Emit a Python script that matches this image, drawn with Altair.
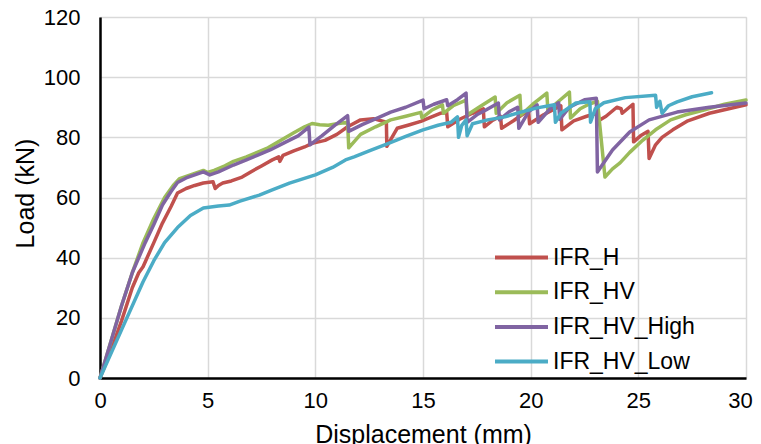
import altair as alt
import pandas as pd

# ---- data ----
series_names = ["IFR_H", "IFR_HV", "IFR_HV_High", "IFR_HV_Low"]
series_colors = ["#C0504D", "#9BBB59", "#8064A2", "#4BACC6"]

h_x = [0, 0.5, 1.0, 1.5, 1.8, 2.0, 2.5, 2.9, 3.3, 3.6, 4.0, 4.4, 4.8, 5.25, 5.35, 5.5, 5.7,
       6.1, 6.6, 7.0, 7.5, 8.0, 8.3, 8.35, 8.5, 9.0, 9.5, 9.85, 10.45, 11.0, 11.5, 12.1,
       12.7, 13.3, 13.32, 13.8, 14.3, 14.9, 15.4, 15.8, 16.1, 16.15, 16.7, 17.3, 17.8,
       17.85, 18.2, 18.6, 18.65, 19.2, 19.9, 19.95, 20.6, 21.4, 21.45, 22.0, 22.6, 23.1,
       23.15, 23.5, 24.0, 24.2, 24.25, 24.75, 24.78, 25.1, 25.45, 25.5, 25.8, 26.1, 26.6,
       27.3, 28.3, 29.2, 30.0]
h_y = [0, 9, 19, 30, 35, 37, 45, 51.5, 57, 61.5, 63, 64, 64.8, 65.2, 63, 64, 64.8,
       65.5, 66.8, 68.5, 70.5, 72.5, 73.5, 72, 74, 75.5, 76.8, 78, 79, 81, 83.5, 85.8,
       86.2, 85, 77, 83, 84, 85.3, 86.8, 88, 88.3, 83.5, 86, 88, 89.5,
       83.5, 85.5, 87, 83, 85.5, 89, 84.5, 87.5, 90.5, 82.5, 85.5, 87, 88,
       85.5, 87, 90, 89.5, 88, 91, 78.5, 80.5, 82, 73, 77.5, 80, 82.5,
       85.5, 88, 89.5, 90.8]

hv_x = [0, 0.5, 1.0, 1.5, 2.0, 2.5, 3.0, 3.4, 3.7, 4.0, 4.4, 4.8, 5.0, 5.3, 5.8, 6.2,
        6.8, 7.3, 7.8, 8.4, 9.0, 9.5, 9.85, 10.2, 10.6, 11.0, 11.5, 11.55, 12.1, 12.8,
        13.5, 14.2, 14.9, 14.95, 15.4, 15.9, 15.95, 16.4, 17.0, 17.05, 17.6, 18.35,
        18.4, 18.9, 19.5, 19.55, 20.1, 20.75, 20.8, 21.3, 21.8, 21.85, 22.3, 22.7, 23.1,
        23.45, 23.8, 24.15, 24.6, 25.2, 25.8, 26.5, 27.2, 28.0, 29.0, 30.0]
hv_y = [0, 12, 24, 35, 45, 53, 60, 64, 66.3, 67, 68, 69, 68.3, 69, 70.5, 72,
        73.5, 75, 76.5, 79, 81.5, 83.5, 84.6, 84.2, 84, 84.5, 85, 76.5, 81, 83.5,
        85.8, 87, 88.3, 86.5, 89, 90.8, 88, 90.5, 92.4, 87.4, 90, 93.4,
        88, 91.5, 94, 87.4, 91, 94.7, 89, 92, 95, 86.4, 89.5, 91, 92,
        66.8, 69.5, 71.5, 75, 79, 82.5, 85.8, 87.5, 89, 91, 92.4]

high_x = [0, 0.5, 1.0, 1.5, 2.1, 2.5, 2.9, 3.3, 3.6, 4.0, 4.4, 4.8, 5.1, 5.5, 6.2, 6.8,
          7.3, 7.9, 8.5, 9.2, 9.7, 9.75, 10.3, 10.9, 11.5, 11.55, 12.2, 12.9, 13.5,
          14.2, 15.0, 15.05, 15.5, 16.1, 16.15, 16.6, 17.0, 17.05, 17.5, 17.9, 18.5,
          18.55, 19.0, 19.4, 19.45, 19.9, 20.3, 20.35, 20.9, 21.3, 21.35, 21.8, 22.5,
          23.05, 23.1, 23.8, 24.6, 25.5, 26.8, 28.3, 30.0]
high_y = [0, 12, 24, 35, 45, 51, 57.5, 62, 65, 66.5, 67.5, 68.5, 67.5, 68.5, 70.8, 72.5,
          74, 75.8, 78, 80.5, 83.4, 77.5, 80.5, 84, 87.2, 82, 84.3, 86.5, 88.4,
          90, 92.4, 89.5, 91, 92.5, 90.5, 92.5, 94.7, 85, 87.5, 89, 91.4,
          85.8, 88.5, 90, 83, 88.5, 90.8, 85, 89.5, 91.5, 86, 90, 92.5,
          93, 68.5, 75.8, 81.8, 85.8, 88.4, 90, 91.4]

low_x = [0, 1.0, 2.0, 2.5, 3.0, 3.6, 4.2, 4.8, 5.5, 6.0, 6.5, 7.4, 8.0, 8.8, 10.0, 10.8,
         11.4, 11.8, 12.5, 13.4, 14.2, 15.0, 15.7, 16.3, 16.6, 16.65, 16.8, 17.0, 17.05,
         17.3, 18.0, 18.8, 19.5, 20.3, 21.1, 21.15, 21.4, 22.1, 22.75, 22.78, 23.0, 23.4,
         24.4, 25.8, 25.85, 26.0, 26.1, 26.4, 26.8, 27.5, 28.4]
low_y = [0, 16, 32, 39, 45, 50, 54, 56.5, 57.2, 57.5, 58.8, 60.8, 62.5, 64.8, 67.5, 70,
         72.5, 73.5, 75.5, 78, 80.3, 82.5, 84, 85, 86.8, 80, 84, 85.8, 80.5,
         84.5, 85.8, 86.8, 88.3, 89.8, 90.8, 85, 88, 91.4, 91.8, 85, 89.5, 91.5,
         93.2, 94, 90, 92, 88, 90.5, 91.8, 93.5, 94.8]

x_ticks = [0, 5, 10, 15, 20, 25, 30]
y_ticks = [0, 20, 40, 60, 80, 100, 120]

# ---- table ----
rows = []
for name, xs, ys in [("IFR_H", h_x, h_y), ("IFR_HV", hv_x, hv_y),
                     ("IFR_HV_High", high_x, high_y), ("IFR_HV_Low", low_x, low_y)]:
    for i, (xv, yv) in enumerate(zip(xs, ys)):
        rows.append({"series": name, "x": xv, "y": yv, "i": i})
df = pd.DataFrame(rows)

FONT = "Liberation Sans"

chart = alt.Chart(df).mark_line(strokeWidth=3.5, strokeJoin="round", strokeCap="round").encode(
    x=alt.X("x:Q", scale=alt.Scale(domain=[0, 30], nice=False),
            axis=alt.Axis(values=x_ticks, title="Displacement (mm)", grid=True,
                          gridColor="#D9D9D9", gridWidth=1.5, ticks=False,
                          domainColor="black", domainWidth=2.5, labelFlush=False,
                          labelOffset={"condition": {"test": "datum.value === 30", "value": -6},
                                       "value": 0},
                          labelFontSize=22, labelPadding=12, labelColor="black",
                          titleFontSize=25, titleFontWeight="normal", titleColor="black",
                          titlePadding=11, labelFont=FONT, titleFont=FONT)),
    y=alt.Y("y:Q", scale=alt.Scale(domain=[0, 120], nice=False),
            axis=alt.Axis(values=y_ticks, title="Load (kN)", grid=True,
                          gridColor="#D9D9D9", gridWidth=1.5, ticks=False,
                          domainColor="black", domainWidth=2.5, labelFlush=False,
                          labelFontSize=22, labelPadding=20, labelColor="black",
                          titleFontSize=25, titleFontWeight="normal", titleColor="black",
                          titlePadding=5, titleY=176, labelFont=FONT, titleFont=FONT)),
    color=alt.Color("series:N",
                    scale=alt.Scale(domain=series_names, range=series_colors),
                    legend=alt.Legend(orient="none", legendX=406, legendY=225, title=None,
                                      symbolType="M-2,0H2", symbolStrokeWidth=4,
                                      symbolSize=702, labelFontSize=23, labelFont=FONT,
                                      labelColor="black", rowPadding=6.7, labelOffset=16,
                                      padding=0)),
    order=alt.Order("i:Q"),
).properties(
    width=646, height=361,
    autosize=alt.AutoSizeParams(type="none"),
    padding={"left": 92, "top": 9, "right": 7, "bottom": 66},
).configure_view(stroke="black", strokeWidth=2).configure(background="white")

chart.save("out.html", embed_options={"renderer": "svg", "actions": False})
